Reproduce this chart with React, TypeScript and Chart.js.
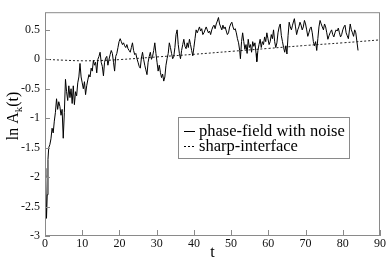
import React, { useEffect, useRef } from "react";
import { Chart, registerables } from "chart.js";

Chart.register(...registerables);

const timeValues = [
  0.0, 0.2, 0.4, 0.6, 0.8, 1.0, 1.3, 1.6, 1.9, 2.2, 2.5, 2.8, 3.1, 3.4, 3.7, 4.0, 4.3, 4.6, 4.9, 5.2,
  5.5, 5.8, 6.1, 6.4, 6.7, 7.0, 7.3, 7.6, 7.9, 8.2, 8.5, 8.8, 9.1, 9.4, 9.7, 10.0, 10.3, 10.6, 10.9, 11.2,
  11.5, 11.8, 12.1, 12.4, 12.7, 13.0, 13.3, 13.6, 13.9, 14.2, 14.5, 14.8, 15.1, 15.4, 15.7, 16.0, 16.3, 16.6, 16.9, 17.2,
  17.5, 17.8, 18.1, 18.4, 18.7, 19.0, 19.3, 19.6, 19.9, 20.2, 20.5, 20.8, 21.1, 21.4, 21.7, 22.0, 22.3, 22.6, 22.9, 23.2,
  23.5, 23.8, 24.1, 24.4, 24.7, 25.0, 25.3, 25.6, 25.9, 26.2, 26.5, 26.8, 27.1, 27.4, 27.7, 28.0, 28.3, 28.6, 28.9, 29.2,
  29.5, 29.8, 30.1, 30.4, 30.7, 31.0, 31.3, 31.6, 31.9, 32.2, 32.5, 32.8, 33.1, 33.4, 33.7, 34.0, 34.3, 34.6, 34.9, 35.2,
  35.5, 35.8, 36.1, 36.4, 36.7, 37.0, 37.3, 37.6, 37.9, 38.2, 38.5, 38.8, 39.1, 39.4, 39.7, 40.0, 40.3, 40.6, 40.9, 41.2,
  41.5, 41.8, 42.1, 42.4, 42.7, 43.0, 43.3, 43.6, 43.9, 44.2, 44.5, 44.8, 45.1, 45.4, 45.7, 46.0, 46.3, 46.6, 46.9, 47.2,
  47.5, 47.8, 48.1, 48.4, 48.7, 49.0, 49.3, 49.6, 49.9, 50.2, 50.5, 50.8, 51.1, 51.4, 51.7, 52.0, 52.3, 52.5, 52.8, 53.1,
  53.4, 53.7, 54.0, 54.3, 54.6, 54.9, 55.2, 55.5, 55.8, 56.1, 56.4, 56.7, 56.9, 57.2, 57.5, 57.8, 58.1, 58.4, 58.7, 59.0,
  59.3, 59.6, 59.9, 60.2, 60.5, 60.8, 61.1, 61.4, 61.7, 62.0, 62.3, 62.6, 62.9, 63.2, 63.5, 63.8, 64.1, 64.4, 64.7, 65.0,
  65.3, 65.6, 65.9, 66.2, 66.5, 66.8, 67.0, 67.3, 67.6, 67.9, 68.2, 68.5, 68.8, 69.1, 69.4, 69.7, 70.0, 70.3, 70.6, 70.9,
  71.2, 71.5, 71.8, 72.1, 72.4, 72.7, 73.0, 73.3, 73.6, 73.9, 74.2, 74.5, 74.8, 75.1, 75.4, 75.7, 76.0, 76.3, 76.6, 77.0,
  77.3, 77.6, 77.9, 78.2, 78.5, 78.8, 79.1, 79.4, 79.7, 80.0, 80.3, 80.6, 80.9, 81.2, 81.5, 81.8, 82.0, 82.3, 82.6, 82.9,
  83.2, 83.5, 83.8, 84.1,
];

const phaseFieldValues = [
  -1.85, -2.0, -2.7, -2.3, -1.7, -1.5, -1.45, -1.35, -1.17, -1.25, -1.05, -0.9, -0.67, -0.85, -0.72, -0.8, -0.95, -0.85, -1.34, -0.9,
  -0.34, -0.55, -0.7, -0.45, -0.65, -0.5, -0.75, -0.45, -0.77, -0.55, -0.62, -0.4, -0.3, -0.07, -0.3, -0.4, -0.5, -0.38, -0.6, -0.45,
  -0.35, -0.26, -0.3, -0.15, -0.2, -0.02, -0.1, -0.05, -0.23, 0.0, 0.05, 0.12, -0.05, -0.12, -0.28, -0.05, 0.02, 0.05, -0.1, 0.0,
  0.08, 0.15, 0.1, -0.05, -0.2, 0.05, 0.1, 0.2, 0.3, 0.35, 0.3, 0.25, 0.28, 0.23, 0.2, 0.25, 0.18, 0.15, 0.12, 0.2,
  0.28, 0.15, 0.08, 0.1, 0.01, -0.05, -0.12, -0.15, 0.02, 0.12, 0.0, -0.1, -0.18, -0.26, -0.05, 0.05, 0.12, 0.0, 0.05, 0.15,
  0.28, 0.1, -0.05, -0.2, -0.1, -0.22, -0.31, -0.25, -0.37, -0.3, -0.1, 0.01, 0.1, 0.28, 0.2, 0.1, 0.01, 0.05, 0.2, 0.42,
  0.5, 0.25, 0.1, 0.01, 0.15, 0.25, 0.34, 0.22, 0.18, 0.28, 0.2, 0.34, 0.25, 0.15, 0.06, 0.2, 0.35, 0.5, 0.45, 0.5,
  0.55, 0.48, 0.52, 0.42, 0.45, 0.5, 0.55, 0.5, 0.45, 0.48, 0.42, 0.5, 0.55, 0.58, 0.52, 0.6, 0.65, 0.71, 0.6, 0.55,
  0.5, 0.58, 0.52, 0.55, 0.48, 0.42, 0.45, 0.55, 0.6, 0.63, 0.55, 0.5, 0.52, 0.45, 0.35, 0.28, 0.15, 0.01, 0.3, 0.45,
  0.3, 0.17, 0.25, 0.1, 0.34, 0.2, 0.25, 0.12, 0.3, 0.22, 0.28, 0.1, -0.04, 0.15, 0.25, 0.34, 0.2, 0.3, 0.25, 0.38,
  0.3, 0.45, 0.35, 0.25, 0.3, 0.42, 0.35, 0.5, 0.3, 0.2, 0.28, 0.45, 0.55, 0.6, 0.4, 0.3, 0.2, 0.12, 0.23, 0.09,
  0.4, 0.63, 0.55, 0.5, 0.58, 0.65, 0.69, 0.55, 0.42, 0.5, 0.55, 0.63, 0.58, 0.5, 0.55, 0.66, 0.6, 0.5, 0.39, 0.45,
  0.52, 0.55, 0.45, 0.3, 0.23, 0.3, 0.15, 0.35, 0.55, 0.66, 0.6, 0.55, 0.5, 0.6, 0.55, 0.45, 0.34, 0.4, 0.45, 0.5,
  0.42, 0.38, 0.45, 0.5, 0.48, 0.53, 0.45, 0.38, 0.42, 0.5, 0.55, 0.58, 0.45, 0.4, 0.35, 0.5, 0.6, 0.5, 0.45, 0.39,
  0.5, 0.45, 0.3, 0.15,
];

const sharpTimes = [0, 5, 10, 15, 20, 30, 40, 50, 60, 70, 80, 90];
const sharpValues = [0, -0.015, -0.025, -0.02, -0.005, 0.04, 0.085, 0.135, 0.185, 0.235, 0.28, 0.33];

const legendLabels = ["phase-field with noise", "sharp-interface"];
const xTitle = "t";
const yTitleParts = ["ln A", "k", "(t)"];

const SERIF = "'Liberation Serif', 'DejaVu Serif', serif";
const FRAME = "#8a8a8a";

const decorPlugin = {
  id: "decor",
  afterDraw(chart: any) {
    const ctx = chart.ctx;
    const { left, right, top, bottom } = chart.chartArea;
    const xs = chart.scales.x;
    const ys = chart.scales.y;
    ctx.save();
    // frame
    ctx.strokeStyle = FRAME;
    ctx.lineWidth = 1;
    ctx.strokeRect(left + 0.5, top + 0.5, right - left - 1, bottom - top - 1);
    // inward ticks
    ctx.beginPath();
    xs.ticks.forEach((t: any) => {
      const px = Math.round(xs.getPixelForValue(t.value)) + 0.5;
      ctx.moveTo(px, bottom);
      ctx.lineTo(px, bottom - 6);
    });
    ys.ticks.forEach((t: any) => {
      const py = Math.round(ys.getPixelForValue(t.value)) + 0.5;
      ctx.moveTo(left, py);
      ctx.lineTo(left + 5, py);
    });
    ctx.stroke();

    // y title with subscript
    ctx.fillStyle = "#000";
    ctx.translate(14, 116);
    ctx.rotate(-Math.PI / 2);
    const big = "16px " + SERIF;
    const small = "11px " + SERIF;
    ctx.font = big;
    const w1 = ctx.measureText(yTitleParts[0]).width;
    const w3 = ctx.measureText(yTitleParts[2]).width;
    ctx.font = small;
    const w2 = ctx.measureText(yTitleParts[1]).width;
    const total = w1 + w2 + w3;
    let x0 = -total / 2;
    ctx.textBaseline = "middle";
    ctx.textAlign = "left";
    ctx.font = big;
    ctx.fillText(yTitleParts[0], x0, 0);
    x0 += w1;
    ctx.font = small;
    ctx.fillText(yTitleParts[1], x0, 5);
    x0 += w2;
    ctx.font = big;
    ctx.fillText(yTitleParts[2], x0, 0);
    ctx.setTransform(1, 0, 0, 1, 0, 0);

    // legend box
    const bx = 178, by = 117, bw = 171, bh = 41;
    ctx.fillStyle = "#fff";
    ctx.fillRect(bx, by, bw, bh);
    ctx.strokeStyle = FRAME;
    ctx.strokeRect(bx + 0.5, by + 0.5, bw, bh);
    ctx.strokeStyle = "#000";
    ctx.lineWidth = 1;
    ctx.beginPath();
    ctx.moveTo(184, 131.5);
    ctx.lineTo(195, 131.5);
    ctx.stroke();
    ctx.setLineDash([2, 2]);
    ctx.beginPath();
    ctx.moveTo(184, 146.5);
    ctx.lineTo(195, 146.5);
    ctx.stroke();
    ctx.setLineDash([]);
    ctx.fillStyle = "#000";
    ctx.font = "16.5px " + SERIF;
    ctx.textBaseline = "alphabetic";
    ctx.fillText(legendLabels[0], 199, 135.5);
    ctx.fillText(legendLabels[1], 199, 150.5);
    ctx.restore();
  },
};

export default function App() {
  const ref = useRef<HTMLCanvasElement | null>(null);
  useEffect(() => {
    if (!ref.current) return;
    const chart = new Chart(ref.current, {
      type: "scatter",
      data: {
        datasets: [
          {
            label: legendLabels[0],
            data: timeValues.map((t, i) => ({ x: t, y: phaseFieldValues[i] })),
            showLine: true,
            borderColor: "#000",
            borderWidth: 1,
            pointRadius: 0,
            tension: 0,
          },
          {
            label: legendLabels[1],
            data: sharpTimes.map((t, i) => ({ x: t, y: sharpValues[i] })),
            showLine: true,
            borderColor: "#222",
            borderWidth: 1,
            borderDash: [2, 2],
            pointRadius: 0,
            tension: 0.4,
          },
        ],
      },
      options: {
        animation: false,
        responsive: true,
        maintainAspectRatio: false,
        layout: { padding: { left: 0, right: 7, top: 1, bottom: 0 } },
        plugins: { legend: { display: false }, tooltip: { enabled: false } },
        scales: {
          x: {
            type: "linear",
            min: 0,
            max: 90,
            grid: { display: false, drawTicks: false },
            border: { display: false },
            ticks: {
              stepSize: 10,
              padding: 1,
              color: "#111",
              font: { family: SERIF, size: 12 },
              maxRotation: 0,
            },
            title: {
              display: true,
              text: xTitle,
              color: "#000",
              padding: 0,
              font: { family: SERIF, size: 16 },
            },
            afterFit: (s: any) => {
              s.height = 26;
            },
          },
          y: {
            type: "linear",
            min: -3,
            max: 0.8,
            grid: { display: false, drawTicks: false },
            border: { display: false },
            ticks: {
              stepSize: 0.5,
              includeBounds: false,
              padding: 5,
              color: "#111",
              font: { family: SERIF, size: 12 },
              callback: (v: any) => String(Math.round(Number(v) * 10) / 10),
            },
            afterFit: (s: any) => {
              s.width = 45;
            },
          },
        },
      },
      plugins: [decorPlugin],
    });
    return () => chart.destroy();
  }, []);
  return (
    <div style={{ position: "absolute", left: 0, top: 0, width: 387, height: 262, background: "#fff" }}>
      <canvas ref={ref} />
    </div>
  );
}
